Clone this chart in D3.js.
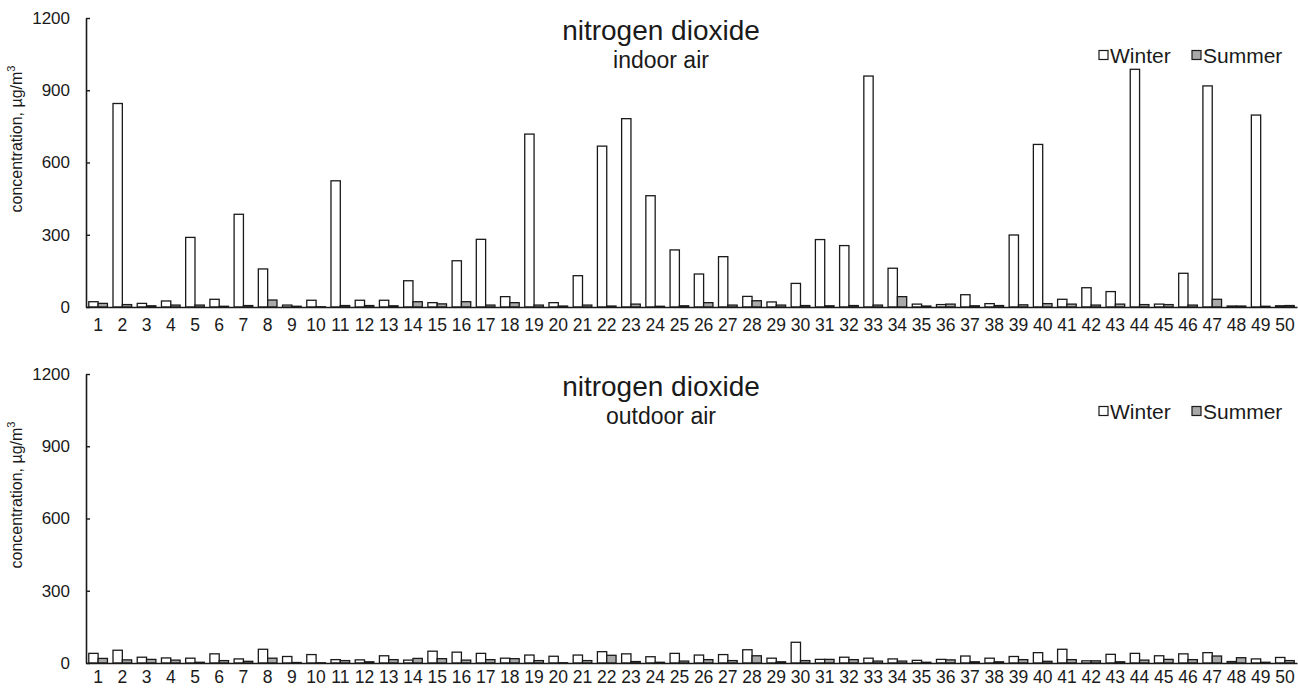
<!DOCTYPE html>
<html>
<head>
<meta charset="utf-8">
<script src="https://cdn.jsdelivr.net/npm/d3@7"></script>
<style>
	body { margin: 0; background: #fff; }
	svg { display: block; font-family: Arial, "Liberation Sans", sans-serif; }
</style>
</head>
<body>
<div class="chart"></div>
<script>
const width = 1298;
const height = 691;

// sampling sites
const sites = [1, 2, 3, 4, 5, 6, 7, 8, 9, 10, 11, 12, 13, 14, 15, 16, 17, 18, 19, 20,
	21, 22, 23, 24, 25, 26, 27, 28, 29, 30, 31, 32, 33, 34, 35, 36, 37, 38, 39, 40,
	41, 42, 43, 44, 45, 46, 47, 48, 49, 50];

const yTicks = [0, 300, 600, 900, 1200];
const seasons = ['Winter', 'Summer'];

// NO2, µg/m3
const indoorWinter = [22, 845, 15, 25, 289, 32, 385, 158, 8, 28,
	524, 28, 28, 109, 18, 192, 281, 43, 718, 18,
	130, 668, 782, 462, 237, 137, 209, 44, 21, 98,
	280, 255, 959, 161, 12, 10, 51, 14, 299, 675,
	32, 80, 64, 987, 12, 140, 918, 4, 797, 5];
const indoorSummer = [15, 10, 5, 8, 8, 3, 6, 29, 3, 1,
	6, 6, 5, 22, 13, 22, 8, 18, 8, 4,
	8, 4, 12, 3, 5, 18, 8, 26, 8, 6,
	5, 6, 8, 43, 4, 12, 5, 6, 9, 14,
	12, 8, 12, 10, 10, 8, 32, 4, 3, 6];
const outdoorWinter = [40, 53, 24, 21, 20, 38, 17, 57, 27, 35,
	14, 13, 30, 12, 49, 45, 40, 20, 33, 28,
	33, 47, 38, 26, 40, 33, 35, 55, 20, 86,
	15, 24, 20, 17, 11, 15, 29, 20, 27, 43,
	57, 9, 36, 40, 30, 38, 43, 6, 17, 23];
const outdoorSummer = [19, 13, 15, 12, 3, 10, 7, 20, 2, 1,
	10, 5, 14, 19, 18, 12, 14, 18, 10, 1,
	10, 32, 6, 3, 8, 14, 10, 30, 5, 10,
	15, 14, 8, 8, 3, 13, 5, 5, 14, 7,
	14, 9, 5, 12, 15, 14, 29, 22, 3, 10];

const panels = [
	{ subtitle: 'indoor air', winter: indoorWinter, summer: indoorSummer, top: 18, pad: 12 },
	{ subtitle: 'outdoor air', winter: outdoorWinter, summer: outdoorSummer, top: 374, pad: 8 }
];

const colors = { Winter: '#ffffff', Summer: '#a9a9a9' };
const ink = '#1a1a1a';

const svg = d3.select('.chart').append('svg')
	.attr('width', width)
	.attr('height', height);

const x = d3.scaleBand()
	.domain(sites)
	.range([86, 1297])
	.paddingInner(0)
	.paddingOuter(0);

const barW = x.bandwidth() * 0.385;
const barOff = (x.bandwidth() - 2 * barW) / 2;

panels.forEach(p => {
	const plotH = 289;
	const y = d3.scaleLinear()
		.domain([0, 1200])
		.range([p.top + plotH, p.top]);

	const g = svg.append('g');

	// bars
	seasons.forEach((s, i) => {
		const vals = s === 'Winter' ? p.winter : p.summer;
		g.append('g').selectAll('rect')
			.data(sites.map((d, j) => ({ site: d, value: vals[j] })))
			.enter().append('rect')
			.attr('x', d => x(d.site) + barOff + i * barW)
			.attr('y', d => y(d.value))
			.attr('width', barW)
			.attr('height', d => y(0) - y(d.value))
			.attr('fill', colors[s])
			.attr('stroke', ink)
			.attr('stroke-width', 1.3);
	});

	// y axis, ticks pointing inside
	const yAxis = g.append('g')
		.attr('transform', `translate(${x.range()[0]},0)`)
		.call(d3.axisLeft(y).tickValues(yTicks).tickFormat(d3.format('d'))
			.tickSizeInner(-4).tickSizeOuter(0).tickPadding(16));
	yAxis.select('.domain').attr('stroke', ink).attr('stroke-width', 1.6);
	yAxis.selectAll('.tick line').attr('stroke', ink).attr('stroke-width', 1.4);
	yAxis.selectAll('.tick text')
		.attr('font-size', 17)
		.attr('font-family', 'Arial, "Liberation Sans", sans-serif')
		.attr('fill', ink);

	// x axis
	const xAxis = g.append('g')
		.attr('transform', `translate(0,${y(0)})`)
		.call(d3.axisBottom(x).tickSize(0).tickPadding(p.pad));
	xAxis.select('.domain').attr('stroke', ink).attr('stroke-width', 1.6);
	xAxis.selectAll('.tick text')
		.attr('font-size', 17.5)
		.attr('font-family', 'Arial, "Liberation Sans", sans-serif')
		.attr('fill', ink);

	// y axis title
	const yt = g.append('text')
		.attr('transform', `translate(22,${p.top + 121}) rotate(-90)`)
		.attr('text-anchor', 'middle')
		.attr('font-size', 16)
		.attr('fill', ink);
	yt.append('tspan').text('concentration, \u00b5g/m');
	yt.append('tspan').attr('font-size', 11).attr('dy', -7).text('3');

	// titles
	g.append('text')
		.attr('x', 661)
		.attr('y', p.top + 22)
		.attr('text-anchor', 'middle')
		.attr('font-size', 28)
		.attr('fill', ink)
		.text('nitrogen dioxide');
	g.append('text')
		.attr('x', 661)
		.attr('y', p.top + 50)
		.attr('text-anchor', 'middle')
		.attr('font-size', 23)
		.attr('fill', ink)
		.text(p.subtitle);

	// legend
	const legX = [1099, 1192];
	seasons.forEach((s, i) => {
		const lg = g.append('g').attr('transform', `translate(${legX[i]},${p.top + 37})`);
		lg.append('rect')
			.attr('x', 0).attr('y', -4.5)
			.attr('width', 9).attr('height', 9)
			.attr('fill', colors[s])
			.attr('stroke', ink)
			.attr('stroke-width', 1.2);
		lg.append('text')
			.attr('x', 11)
			.attr('y', 0)
			.attr('dy', '0.36em')
			.attr('font-size', 21)
			.attr('fill', ink)
			.text(s);
	});
});
</script>
</body>
</html>
